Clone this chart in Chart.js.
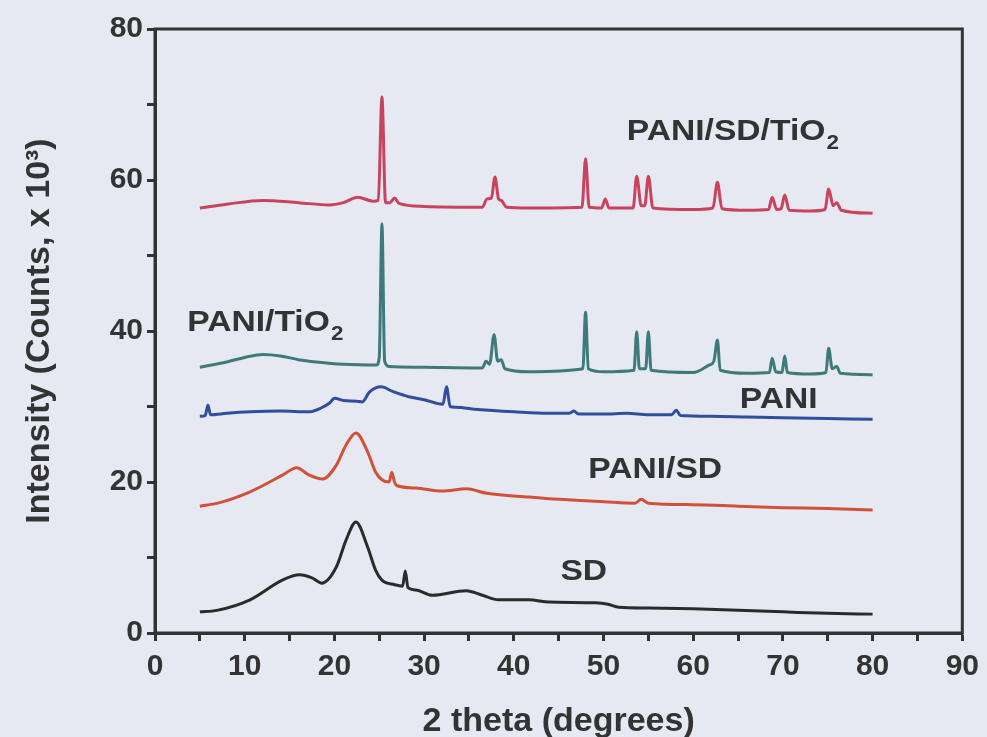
<!DOCTYPE html>
<html>
<head>
<meta charset="utf-8">
<script src="https://cdn.jsdelivr.net/npm/chart.js@4.4.0/dist/chart.umd.min.js"></script>
<style>
  html, body { margin: 0; padding: 0; background: #e6e9f1; }
  #wrap { width: 987px; height: 737px; position: relative; }
</style>
</head>
<body>
<div id="wrap"><canvas id="chart"></canvas></div>
<script>
// 2 theta (degrees) / intensity (x 10^3)
const sdX = [5, 6.9, 10.6, 14.2, 16.1, 17.5, 18.6, 20.2, 21.3, 22.4, 23.7, 24.6, 25.3, 26.7, 27.6, 27.9, 28.2, 29.1, 30.9, 34.7, 36.5, 38.3, 41.7, 43.9, 49.1, 50.5, 51.7, 55, 60, 65, 70, 75, 80];
const sdY = [2.8, 3.0, 4.4, 7.0, 7.7, 7.3, 6.6, 8.7, 12.3, 14.7, 11.4, 8.3, 7.0, 6.4, 6.2, 8.2, 6.0, 5.7, 5.0, 5.6, 5.0, 4.4, 4.4, 4.1, 4.0, 3.8, 3.4, 3.3, 3.2, 3.0, 2.8, 2.6, 2.5];

const paniSdX = [5, 7, 10.6, 14.2, 15.8, 17.2, 18.7, 20.2, 21.3, 22.4, 23.7, 24.6, 25.3, 26.1, 26.4, 26.7, 27.0, 29.1, 32, 34.7, 37, 41.7, 45, 50, 53.5, 54.2, 55, 60, 65, 70, 75, 80];
const paniSdY = [16.8, 17.2, 18.7, 20.9, 21.9, 20.9, 20.4, 22.2, 24.9, 26.5, 24.0, 21.3, 20.3, 20.0, 21.3, 20.0, 19.5, 19.2, 18.8, 19.1, 18.5, 18.0, 17.7, 17.4, 17.2, 17.7, 17.2, 17.0, 16.8, 16.6, 16.5, 16.3];

const paniX = [5, 5.6, 5.9, 6.2, 8, 10.6, 14, 17.2, 18.5, 19.5, 20, 21, 22.5, 23.1, 23.9, 25.2, 26.5, 28.3, 30, 32.1, 32.5, 32.9, 33.5, 36, 40, 43.9, 46.2, 46.7, 47.2, 50, 52.6, 55, 57.6, 58.1, 58.6, 62, 66, 70, 75, 80];
const paniY = [28.7, 28.8, 30.2, 28.9, 29.1, 29.3, 29.4, 29.3, 29.8, 30.5, 31.1, 30.8, 30.7, 30.6, 31.9, 32.6, 32.0, 31.3, 30.9, 30.3, 32.6, 30.0, 29.9, 29.6, 29.3, 29.1, 29.1, 29.4, 29.0, 29.0, 29.1, 28.9, 28.9, 29.5, 28.8, 28.7, 28.6, 28.5, 28.4, 28.3];

const paniTiX = [5, 8, 10, 12, 14, 16, 18, 21, 24.7, 25.0, 25.3, 25.6, 26.1, 30, 36.5, 36.9, 37.3, 37.8, 38.2, 38.6, 39.0, 41.7, 47.7, 48.0, 48.3, 50, 53.4, 53.7, 54.0, 54.7, 55.0, 55.3, 60, 61.8, 62.3, 62.7, 63.0, 66, 68.5, 68.8, 69.2, 69.9, 70.2, 70.5, 73, 74.8, 75.1, 75.5, 76.0, 76.4, 80];
const paniTiY = [35.2, 35.9, 36.5, 36.9, 36.7, 36.2, 35.9, 35.6, 35.5, 36.5, 54.2, 36.0, 35.3, 35.2, 35.1, 36.0, 35.6, 39.5, 36.0, 36.2, 35.0, 34.6, 35.0, 42.5, 35.0, 34.6, 34.8, 39.9, 35.0, 35.0, 39.9, 34.8, 34.5, 35.5, 36.0, 38.8, 34.8, 34.4, 34.5, 36.4, 34.6, 34.5, 36.7, 34.5, 34.3, 34.5, 37.7, 35.0, 35.3, 34.4, 34.2];

const paniSdTiX = [5, 8, 12, 16, 19.4, 21, 22.6, 24.3, 24.9, 25.3, 25.7, 26.2, 26.7, 27.2, 30, 36.5, 37.0, 37.5, 37.9, 38.3, 38.6, 39.2, 41.7, 47.6, 48.0, 48.4, 49.8, 50.2, 50.6, 53.3, 53.7, 54.2, 54.6, 55.0, 55.5, 60, 62.2, 62.7, 63.2, 66, 68.4, 68.8, 69.3, 69.8, 70.2, 70.7, 73, 74.7, 75.1, 75.6, 76.0, 76.5, 80];
const paniSdTiY = [56.3, 56.8, 57.3, 57.0, 56.7, 57.0, 57.7, 57.2, 57.3, 71.0, 57.0, 57.0, 57.6, 56.9, 56.5, 56.4, 57.5, 57.6, 60.4, 57.5, 57.3, 56.4, 56.3, 56.4, 62.8, 56.4, 56.3, 57.5, 56.3, 56.3, 60.5, 56.6, 56.6, 60.5, 56.3, 56.1, 56.3, 59.7, 56.2, 56.0, 56.1, 57.7, 56.1, 56.2, 58.0, 56.0, 55.9, 56.1, 58.8, 56.6, 57.0, 56.0, 55.6];

// curve labels: [main text, subscript, 2 theta, intensity]
const curveLabels = [
  ['PANI/SD/TiO', '2', 52.6, 66.4],
  ['PANI/TiO', '2', 3.6, 41.1],
  ['PANI', '', 65.2, 30.9],
  ['PANI/SD', '', 48.3, 21.6],
  ['SD', '', 45.2, 8.1],
];

const ink = '#333333';
const toPoints = (xs, ys) => xs.map((x, i) => ({ x: x, y: ys[i] }));
const series = (label, xs, ys, color) => ({
  label: label,
  data: toPoints(xs, ys),
  borderColor: color,
  borderWidth: 3,
  pointRadius: 0,
  cubicInterpolationMode: 'monotone',
  fill: false,
});

const framePlugin = {
  id: 'frame',
  afterDatasetsDraw(chart) {
    const a = chart.chartArea;
    const ctx = chart.ctx;
    ctx.save();
    ctx.strokeStyle = ink;
    ctx.lineWidth = 3;
    ctx.strokeRect(a.left, a.top, a.right - a.left, a.bottom - a.top);
    ctx.restore();
  },
};

const labelPlugin = {
  id: 'curveLabels',
  afterDatasetsDraw(chart) {
    const ctx = chart.ctx;
    const xs = chart.scales.x;
    const ys = chart.scales.y;
    ctx.save();
    ctx.fillStyle = ink;
    ctx.textBaseline = 'middle';
    ctx.textAlign = 'left';
    curveLabels.forEach(([text, sub, lx, ly]) => {
      ctx.save();
      ctx.translate(xs.getPixelForValue(lx), ys.getPixelForValue(ly));
      ctx.scale(1.12, 1);
      ctx.font = 'bold 30px "Liberation Sans", Arial, sans-serif';
      ctx.fillText(text, 0, 0);
      if (sub) {
        const w = ctx.measureText(text).width;
        ctx.font = 'bold 20px "Liberation Sans", Arial, sans-serif';
        ctx.fillText(sub, w + 1, 12);
      }
      ctx.restore();
    });
    ctx.restore();
  },
};

const tickFont = { family: '"Liberation Sans", Arial, sans-serif', size: 30, weight: 'bold' };
const titleFont = { family: '"Liberation Sans", Arial, sans-serif', size: 34, weight: 'bold' };

new Chart(document.getElementById('chart'), {
  type: 'line',
  data: {
    datasets: [
      series('SD', sdX, sdY, '#2b2b2b'),
      series('PANI/SD', paniSdX, paniSdY, '#cf5238'),
      series('PANI', paniX, paniY, '#2f4f9e'),
      series('PANI/TiO2', paniTiX, paniTiY, '#3e7a7a'),
      series('PANI/SD/TiO2', paniSdTiX, paniSdTiY, '#c9435f'),
    ],
  },
  options: {
    responsive: true,
    maintainAspectRatio: false,
    animation: false,
    layout: { padding: { top: 29, right: 22, left: 0, bottom: 0 } },
    plugins: { legend: { display: false }, tooltip: { enabled: false } },
    scales: {
      x: {
        type: 'linear',
        min: 0,
        max: 90,
        afterFit(scale) { scale.height = 104; },
        border: { color: ink, width: 3 },
        grid: { drawOnChartArea: false, color: ink, tickLength: 8, tickWidth: 3, tickColor: ink },
        ticks: {
          stepSize: 5,
          autoSkip: false,
          maxRotation: 0,
          padding: 8,
          color: ink,
          font: tickFont,
          callback: (v) => (v % 10 === 0 ? String(v) : ''),
        },
        title: { display: true, text: '2 theta (degrees)', color: ink, font: titleFont, padding: { top: 0, bottom: -5 } },
      },
      y: {
        type: 'linear',
        min: 0,
        max: 80,
        afterFit(scale) { scale.width = 155; },
        border: { color: ink, width: 3 },
        grid: { drawOnChartArea: false, color: ink, tickLength: 8, tickWidth: 3, tickColor: ink },
        ticks: {
          stepSize: 10,
          autoSkip: false,
          padding: 4,
          color: ink,
          font: tickFont,
          callback: (v) => (v % 20 === 0 ? String(v) : ''),
        },
        title: { display: true, text: 'Intensity (Counts, x 10³)', color: ink, font: titleFont, padding: { top: 19, bottom: 0 } },
      },
    },
  },
  plugins: [framePlugin, labelPlugin],
});
</script>
</body>
</html>
